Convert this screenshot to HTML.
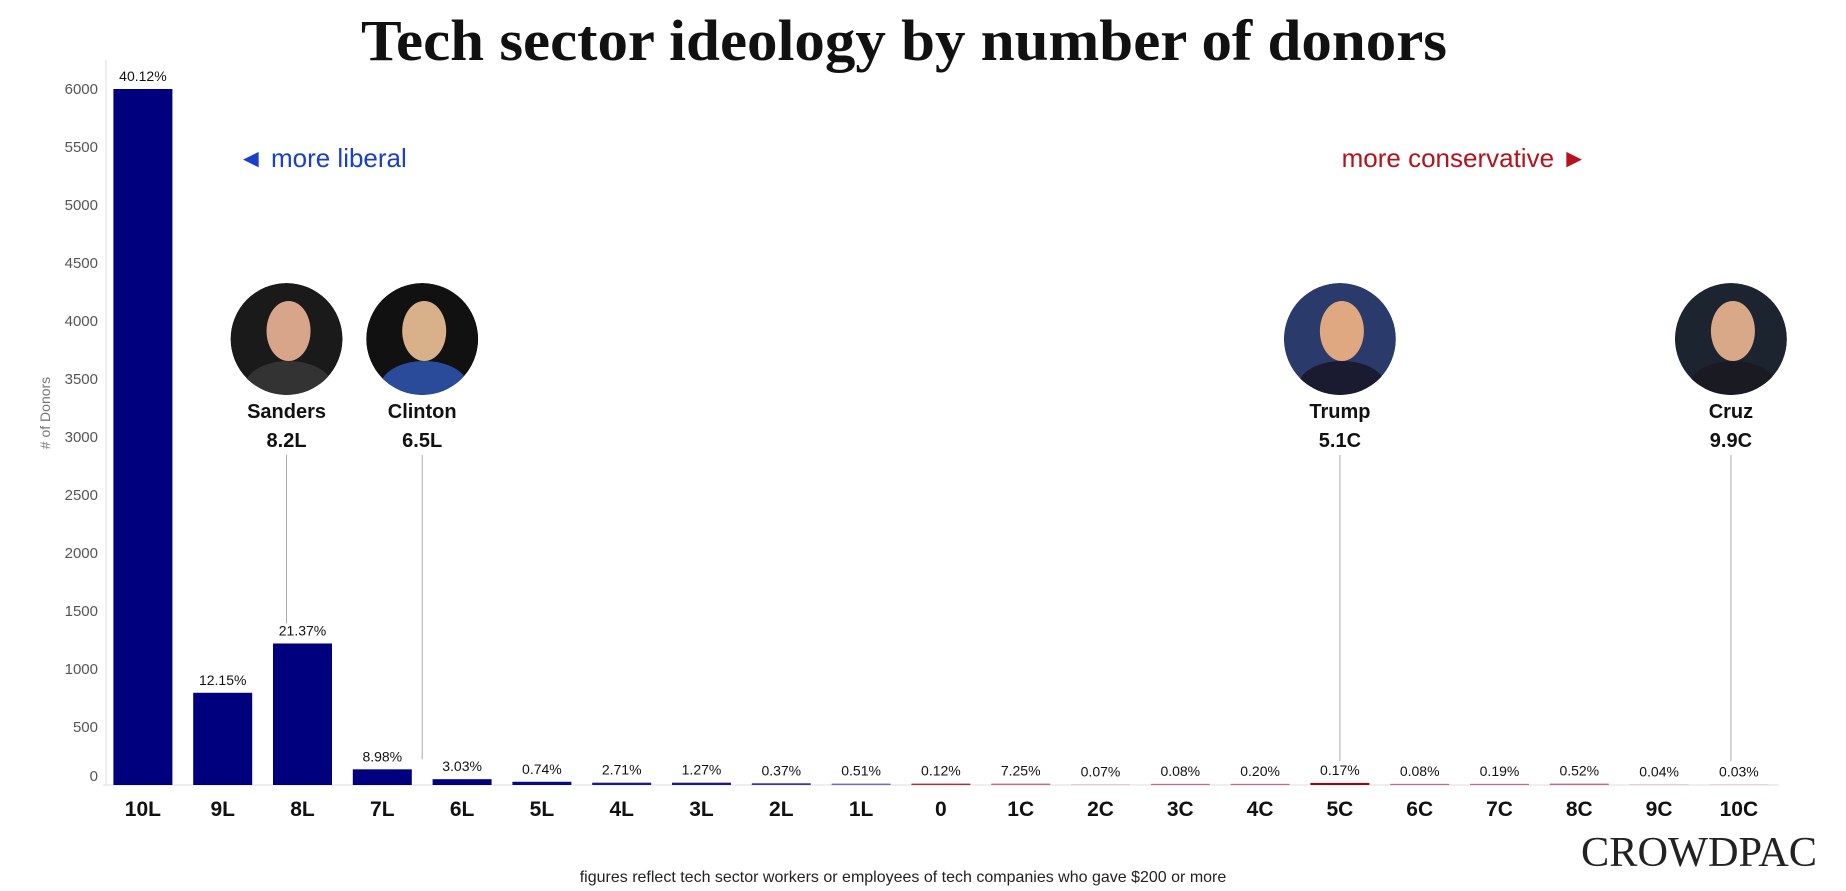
<!DOCTYPE html>
<html><head><meta charset="utf-8"><style>
body{margin:0;background:#fff;width:1846px;height:891px;overflow:hidden;font-family:"Liberation Sans",sans-serif}
svg{display:block}
</style></head><body>
<svg id="chart" width="1846" height="891">
<defs>
<clipPath id="c0"><circle cx="0" cy="0" r="56"/></clipPath>
</defs>
<text x="361" y="60" textLength="1086" lengthAdjust="spacingAndGlyphs" font-family="Liberation Serif,serif" font-weight="bold" font-size="58" fill="#111">Tech sector ideology by number of donors</text>
<text x="238" y="167" font-size="26" fill="#1a3fc8">◄ more liberal</text>
<text x="1587" y="167" text-anchor="end" font-size="26" fill="#b5121b">more conservative ►</text>
<text transform="translate(50,413) rotate(-90)" text-anchor="middle" font-size="14" fill="#777"># of Donors</text>
<text x="903" y="882" text-anchor="middle" font-size="16" fill="#222">figures reflect tech sector workers or employees of tech companies who gave $200 or more</text>
<text x="1581" y="866" textLength="236" lengthAdjust="spacingAndGlyphs" font-family="Liberation Serif,serif" font-size="42" fill="#222">CROWDPAC</text>
<g id="axes"></g><g id="bars"></g><g id="people"></g>
</svg>
<script>
const categories=["10L","9L","8L","7L","6L","5L","4L","3L","2L","1L","0","1C","2C","3C","4C","5C","6C","7C","8C","9C","10C"];
const donors=[6000,795,1220,135,50,28,20,20,15,12,12,12,4,10,10,18,10,10,12,4,3];
const percents=["40.12%","12.15%","21.37%","8.98%","3.03%","0.74%","2.71%","1.27%","0.37%","0.51%","0.12%","7.25%","0.07%","0.08%","0.20%","0.17%","0.08%","0.19%","0.52%","0.04%","0.03%"];
const colors=["#00007f","#00007f","#00007f","#00007f","#00007f","#0a0a80","#1a1a88","#1a1a88","#3a3aa0","#6a6ac8","#b02a3a","#cc6a7c","#d88a98","#c8687a","#c8687a","#8e0a14","#c8687a","#c8687a","#c8687a","#d890a0","#d890a0"];
const yTicks=[0,500,1000,1500,2000,2500,3000,3500,4000,4500,5000,5500,6000];
const candidates=["Sanders","Clinton","Trump","Cruz"];
const candScores=["8.2L","6.5L","5.1C","9.9C"];
const candPos=[8.2,6.5,-5.0,-9.9]; // liberal positive
const NS="http://www.w3.org/2000/svg";
const y0=785,yTop=89,yMax=6000,xStart=103,step=79.8,barW=59;
const y=v=>y0-(v/yMax)*(y0-yTop);
const xc=i=>xStart+step*(i+0.5);
const xIdeo=p=>xc(10-p);
function mk(t,a,parent,txt){const e=document.createElementNS(NS,t);for(const k in a)e.setAttribute(k,a[k]);if(txt!==undefined)e.textContent=txt;parent.appendChild(e);return e;}
const axes=document.getElementById('axes'),bars=document.getElementById('bars'),people=document.getElementById('people');
let l=mk('line',{x1:106,y1:60,x2:106,y2:y0,stroke:'#ddd'},axes);


l=mk('line',{x1:103,y1:y0,x2:xc(20)+40,y2:y0,stroke:'#ddd'},axes);


yTicks.forEach(t=>{
 const e=mk('text',{x:98,y:(t===0?y(t)-4:y(t)+5),'text-anchor':'end','font-size':15,fill:'#555'},axes,t);
 
 
});
categories.forEach((c,i)=>{
 const r=mk('rect',{x:xc(i)-barW/2,y:y(donors[i]),width:barW,height:y0-y(donors[i]),fill:colors[i]},bars);
 
 
 const p=mk('text',{x:xc(i),y:y(donors[i])-8,'text-anchor':'middle','font-size':14,fill:'#111'},bars,percents[i]);
 
 
 const t=mk('text',{x:xc(i),y:816,'text-anchor':'middle','font-size':21,'font-weight':'bold',fill:'#111'},bars,c);
 
 
});
const faceCol=[["#1a1a1a","#d9a58a","#333"],["#111","#d8b08a","#2a4a9a"],["#2a3a6a","#e0a880","#1a1a30"],["#1c2430","#d9a888","#1a1a22"]];
candidates.forEach((n,k)=>{
 const x=xIdeo(candPos[k]);
 const bi=Math.round(10-candPos[k]);
 const g=mk('g',{},people);
 
 
 mk('line',{x1:x,y1:455,x2:x,y2:Math.min(y(donors[bi]),y0-4)-20,stroke:'#aaa'},g);
 const ph=mk('g',{transform:`translate(${x},339)`,'clip-path':'url(#c0)'},g);
 mk('circle',{cx:0,cy:0,r:56,fill:faceCol[k][0]},ph);
 mk('ellipse',{cx:2,cy:-8,rx:22,ry:30,fill:faceCol[k][1]},ph);
 mk('ellipse',{cx:2,cy:48,rx:44,ry:26,fill:faceCol[k][2]},ph);
 mk('text',{x:x,y:418,'text-anchor':'middle','font-size':20,'font-weight':'bold',fill:'#111'},g,n);
 mk('text',{x:x,y:447,'text-anchor':'middle','font-size':20,'font-weight':'bold',fill:'#111'},g,candScores[k]);
});
</script>
</body></html>
